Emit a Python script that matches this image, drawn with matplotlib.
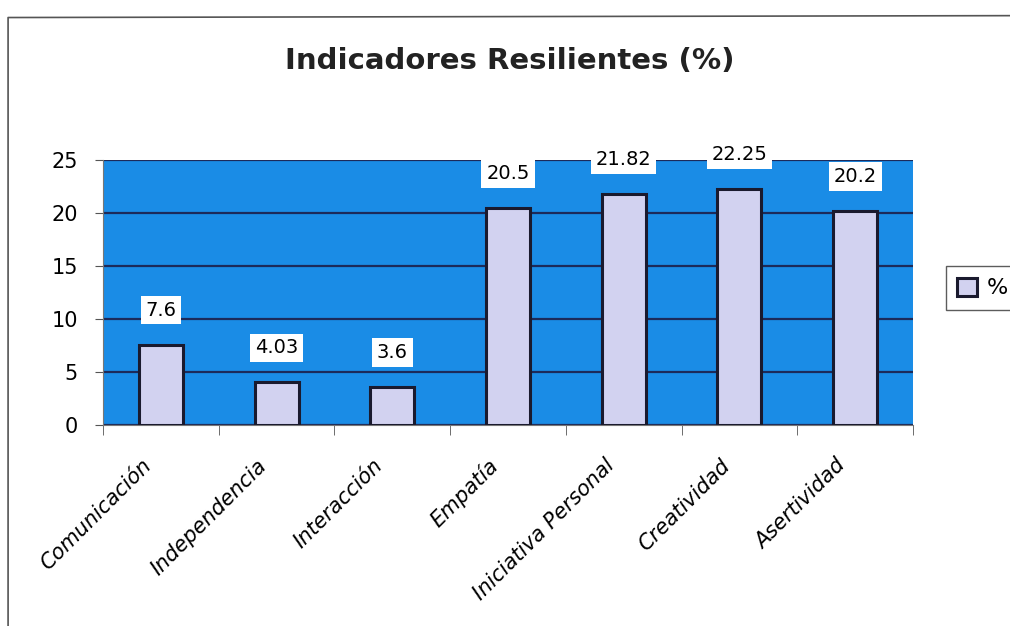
import matplotlib
matplotlib.use("Agg")
import matplotlib.pyplot as plt
import matplotlib.transforms as mtransforms
from matplotlib.lines import Line2D
import numpy as np

plt.rcParams['font.family'] = ['DejaVu Sans']

categorias = ["Comunicación", "Independencia", "Interacción", "Empatía",
              "Iniciativa Personal", "Creatividad", "Asertividad"]
valores = [7.6, 4.03, 3.6, 20.5, 21.82, 22.25, 20.2]
etiquetas = ["7.6", "4.03", "3.6", "20.5", "21.82", "22.25", "20.2"]

fondo = "#1a8ce6"
barra = "#d2d2f0"
borde = "#1a1a2e"

fig = plt.figure(figsize=(10.1, 6.26), dpi=100)
ax = fig.add_axes([0.102, 0.321, 0.802, 0.423])

# marco exterior (solo arriba e izquierda, como en el escaneo)
fig.lines.append(Line2D([0.008, 0.008, 1.0], [0.0, 0.972, 0.975],
                        transform=fig.transFigure, color="#555555", linewidth=1.2))

x = np.arange(len(categorias))
ax.set_facecolor(fondo)
ax.bar(x, valores, width=0.38, color=barra, edgecolor=borde, linewidth=2.2,
       label="%", zorder=3)

for xi, v, t in zip(x, valores, etiquetas):
    ax.annotate(t, (xi, v), xytext=(0, 18), textcoords="offset points",
                ha="center", va="bottom", fontsize=14, color="black", zorder=5,
                annotation_clip=False,
                bbox=dict(boxstyle="square,pad=0.25", fc="white", ec="none"))

ax.set_xlim(-0.5, len(categorias) - 0.5)
ax.set_ylim(0, 25)
ax.set_yticks([0, 5, 10, 15, 20, 25])
ax.yaxis.grid(True, color="#1c2a5a", linewidth=1.6, zorder=1)
ax.set_axisbelow(True)

ax.set_xticks(x)
ax.set_xticklabels(categorias, rotation=45, ha="right", rotation_mode="anchor",
                   fontsize=15, fontstyle="italic")
ax.tick_params(axis="x", length=0, pad=22)
desplaza = mtransforms.ScaledTranslation(-0.2, 0, fig.dpi_scale_trans)
for lab in ax.get_xticklabels():
    lab.set_transform(lab.get_transform() + desplaza)
ax.set_xticks(np.arange(-0.5, len(categorias)), minor=True)
ax.tick_params(axis="x", which="minor", length=7, color="#555555")
ax.tick_params(axis="y", labelsize=15, length=6, color="#555555", pad=12)

for s in ["top", "right"]:
    ax.spines[s].set_visible(False)
for s in ["left", "bottom"]:
    ax.spines[s].set_color("#777777")

fig.text(0.505, 0.903, "Indicadores Resilientes (%)", ha="center", va="center",
         fontsize=21, fontweight="bold", color="#222222")

fig.legend(loc="center left", bbox_to_anchor=(0.926, 0.54), fontsize=16,
           frameon=True, fancybox=False, edgecolor="#333333",
           handlelength=0.9, handleheight=0.9, handletextpad=0.4,
           borderpad=0.5)

fig.savefig("out.png", dpi=100)
